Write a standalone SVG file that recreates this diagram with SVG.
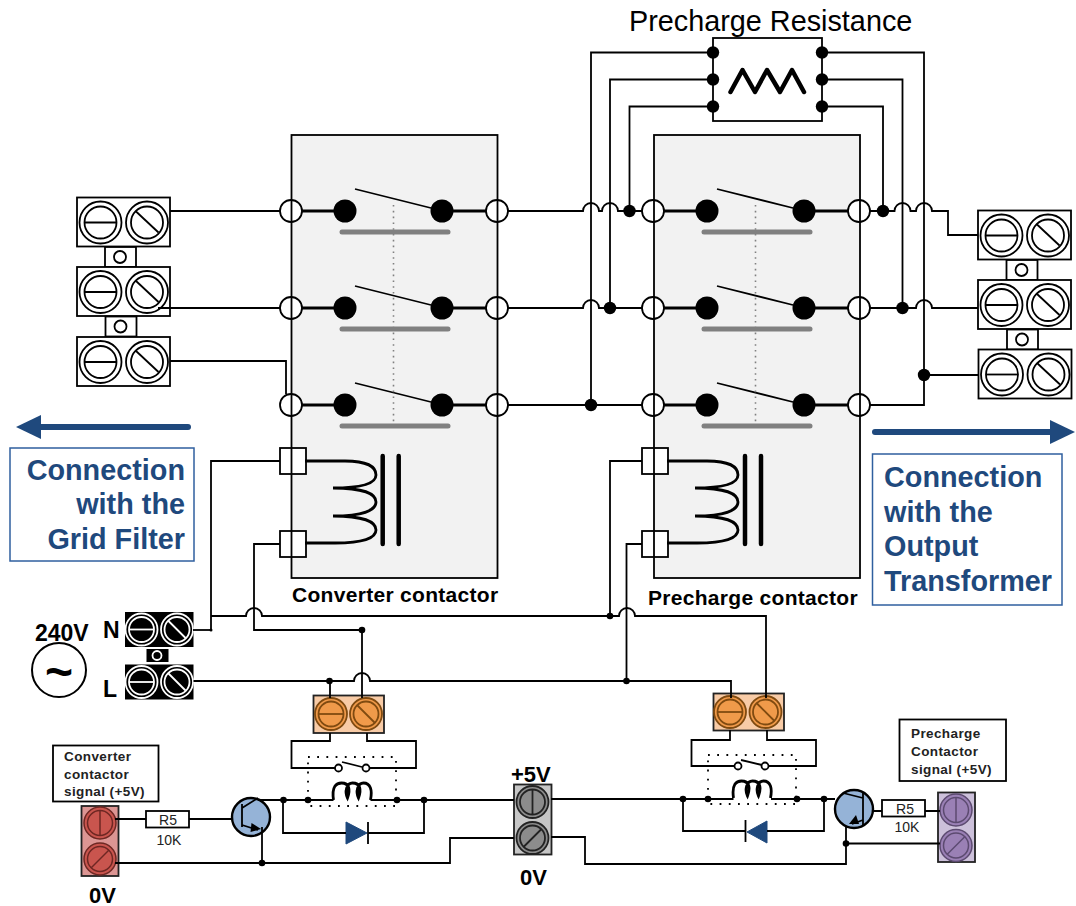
<svg xmlns="http://www.w3.org/2000/svg" width="1076" height="906" viewBox="0 0 1076 906">
<style>
text{font-family:"Liberation Sans",Arial,sans-serif;fill:#000}
.b{font-weight:bold}
.blue{fill:#1f497d;font-weight:bold;font-size:28.800px}
.w{fill:none;stroke:#000;stroke-width:1.800;stroke-linejoin:miter}
.th{fill:none;stroke:#000;stroke-width:3.200}
.d{fill:#000;stroke:none}
.ln{fill:#fff;stroke:#000;stroke-width:1.800}
.scr{fill:#fff;stroke:#000;stroke-width:1.800}
.scrk{fill:#000;stroke:#fff;stroke-width:1.800}
.c-frame{fill:none;stroke:#000;stroke-width:1.800}
.c-fill{fill:#f2f2f2;stroke:none}
.bar{stroke:#808080;stroke-width:5;stroke-linecap:round;fill:none}
.dotv{stroke:#808080;stroke-width:1.600;stroke-dasharray:1.600 4.200;fill:none}
.dotk{stroke:#000;stroke-width:1.800;stroke-dasharray:1.800 7.400;fill:none}
.core{stroke:#000;stroke-width:4.500;stroke-linecap:round;fill:none}
.coil{stroke:#000;stroke-width:2.800;fill:none}
.tr{fill:#95b3d7;stroke:#000;stroke-width:2.400}
.lbl{fill:#fff;stroke:#000;stroke-width:1.800}
.small{font-size:13.500px;font-weight:bold;fill:#222;letter-spacing:.4px}
.val{font-size:14px;fill:#222}
.title{font-size:21px;font-weight:bold;letter-spacing:.3px}
</style>
<defs>
<g id="big-h"><circle r="21"/><circle r="16"/><path d="M-16 0H16"/></g>
<g id="big-d"><circle r="21"/><circle r="16"/><path d="M-11.500 -11.500L11.500 10"/></g>
<g id="sm-h"><circle r="16"/><circle r="12.500"/><path d="M-12.500 0H12.500"/></g>
<g id="sm-d"><circle r="16"/><circle r="12.500"/><path d="M-9 -9L9 9"/></g>
<g id="sm-v"><circle r="16"/><circle r="12.500"/><path d="M0 -12.500V12.500"/></g>
<g id="sm-u"><circle r="16"/><circle r="12.500"/><path d="M-9 9L9 -9"/></g>
<g id="tb">
<rect class="ln" x="0" y="0" width="93" height="49"/>
<use href="#big-h" x="23.500" y="25" class="scr"/>
<use href="#big-d" x="70" y="25" class="scr"/>
</g>
<g id="tab"><rect class="ln" x="0" y="0" width="31" height="20"/><circle class="ln" cx="15" cy="10" r="6"/></g>
<g id="switch">
<path class="th" d="M302 0H334M453 0H486"/>
<circle class="d" cx="345" cy="0" r="11.500"/>
<circle class="d" cx="442" cy="0" r="11.500"/>
<path class="w" d="M355 -22L431 -3"/>
<path class="bar" d="M342 21H448"/>
</g>
<g id="contact"><circle class="ln" cx="0" cy="0" r="11"/></g>
<path id="coilshape" class="coil" d="M0 0H40C62 0 71 6 71 14C71 22 58 27 28 27C58 27 71 33 71 41C71 49 58 55 28 55C58 55 71 61 71 69C71 77 58 82 30 82H0"/>
<path id="relaycoil" class="coil" d="M0 17C-2 3 3 0 8 0C16 0 17 7 14 15C11 9 13 0 19 0C27 0 28 7 25 15C22 9 24 0 30 0C37 0 39 7 37 17"/>
</defs>

<g id="converter-contactor">
<rect class="c-fill" x="291.500" y="135" width="206" height="443"/>
<use href="#contact" x="291" y="211"/><use href="#contact" x="291" y="308"/><use href="#contact" x="291" y="405"/>
<use href="#contact" x="497" y="211"/><use href="#contact" x="497" y="308"/><use href="#contact" x="497" y="405"/>
<rect class="ln" x="280" y="448" width="26" height="26"/><rect class="ln" x="280" y="531" width="26" height="26"/>
<rect class="c-frame" x="291.500" y="135" width="206" height="443"/>
<use href="#switch" y="211"/><use href="#switch" y="308"/><use href="#switch" y="405"/>
<path class="dotv" d="M393.500 205V422"/>
<use href="#coilshape" x="305" y="461"/>
<path class="core" d="M382.700 456V544M398.700 456V544"/>
<text class="title" x="292" y="602">Converter contactor</text>
</g>

<g id="precharge-contactor">
<rect class="c-fill" x="654" y="135" width="206" height="443"/>
<use href="#contact" x="653" y="211"/><use href="#contact" x="653" y="308"/><use href="#contact" x="653" y="405"/>
<use href="#contact" x="859" y="211"/><use href="#contact" x="859" y="308"/><use href="#contact" x="859" y="405"/>
<rect class="ln" x="642" y="448" width="26" height="26"/><rect class="ln" x="642" y="531" width="26" height="26"/>
<rect class="c-frame" x="654" y="135" width="206" height="443"/>
<use href="#switch" x="362" y="211"/><use href="#switch" x="362" y="308"/><use href="#switch" x="362" y="405"/>
<path class="dotv" d="M755.500 205V422"/>
<use href="#coilshape" x="667" y="461"/>
<path class="core" d="M745 456V544M761 456V544"/>
<text class="title" x="648" y="605">Precharge contactor</text>
</g>

<g id="precharge-resistance">
<text x="629" y="31" font-size="28.800">Precharge Resistance</text>
<rect class="ln" x="713" y="38" width="109" height="83"/>
<path d="M730.500 92L742.500 70L755 92L767 70L780 92L792 70L804 92" fill="none" stroke="#000" stroke-width="4.500" stroke-linecap="round" stroke-linejoin="round"/>
</g>

<g id="input-terminals">
<use href="#tb" x="77" y="197.500"/><use href="#tab" x="105" y="247"/>
<use href="#tb" x="77" y="267"/><use href="#tab" x="105.500" y="316.500"/>
<use href="#tb" x="77" y="337"/>
</g>
<g id="output-terminals">
<use href="#tb" x="978" y="210.500"/><use href="#tab" x="1006.500" y="260"/>
<use href="#tb" x="978" y="280"/><use href="#tab" x="1007" y="329.500"/>
<use href="#tb" x="978.500" y="349.500"/>
</g>

<g id="grid-arrow">
<path d="M188 427H40" stroke="#1f497d" stroke-width="6" stroke-linecap="round" fill="none"/>
<path d="M16 427L41 415V439Z" fill="#1f497d"/>
</g>
<g id="grid-label">
<rect x="10" y="448" width="184" height="113" fill="#fff" stroke="#2f5f9f" stroke-width="1.500"/>
<text class="blue" x="185" y="480" text-anchor="end">Connection</text>
<text class="blue" x="185" y="514" text-anchor="end">with the</text>
<text class="blue" x="185" y="549" text-anchor="end">Grid Filter</text>
</g>
<g id="output-arrow">
<path d="M875 432H1052" stroke="#1f497d" stroke-width="6" stroke-linecap="round" fill="none"/>
<path d="M1075 432L1050 420V444Z" fill="#1f497d"/>
</g>
<g id="output-label">
<rect x="872.500" y="454" width="189.500" height="151" fill="#fff" stroke="#2f5f9f" stroke-width="1.500"/>
<text class="blue" x="884" y="487">Connection</text>
<text class="blue" x="884" y="522">with the</text>
<text class="blue" x="884" y="556">Output</text>
<text class="blue" x="884" y="591">Transformer</text>
</g>

<g id="source">
<text class="b" x="35" y="641" font-size="23">240V</text>
<circle cx="59" cy="670" r="27" fill="#fff" stroke="#000" stroke-width="2"/>
<text class="b" x="59" y="688" font-size="48" text-anchor="middle">~</text>
<text class="b" x="103" y="638" font-size="23">N</text>
<text class="b" x="103" y="697" font-size="23">L</text>
</g>
<g id="mains-terminals">
<rect x="125" y="612" width="68.500" height="35" fill="#000"/>
<use href="#sm-h" x="141.500" y="629.500" class="scrk"/>
<use href="#sm-d" x="177" y="629.500" class="scrk"/>
<rect x="146.500" y="649" width="22" height="13" fill="#000"/>
<circle cx="157" cy="655.500" r="4.500" fill="#000" stroke="#fff" stroke-width="1.800"/>
<rect x="125" y="664.500" width="68.500" height="35" fill="#000"/>
<use href="#sm-h" x="141.500" y="682" class="scrk"/>
<use href="#sm-d" x="177" y="682" class="scrk"/>
</g>

<g id="relay-terminal-1">
<rect x="313.500" y="695.500" width="70.500" height="37.500" fill="#f8cba6" stroke="#222" stroke-width="1.800"/>
<use href="#sm-h" x="331" y="714" fill="#f09a4a" stroke="#7f4a10" stroke-width="1.800"/>
<use href="#sm-d" x="366" y="714" fill="#f09a4a" stroke="#7f4a10" stroke-width="1.800"/>
</g>
<g id="relay-terminal-2">
<rect x="713.500" y="693.500" width="70.500" height="37" fill="#f8cba6" stroke="#222" stroke-width="1.800"/>
<use href="#sm-h" x="730" y="712" fill="#f09a4a" stroke="#7f4a10" stroke-width="1.800"/>
<use href="#sm-d" x="765.500" y="712" fill="#f09a4a" stroke="#7f4a10" stroke-width="1.800"/>
</g>

<g id="signal-label-1">
<rect class="lbl" x="53" y="745.500" width="105.500" height="56"/>
<text class="small" x="64" y="761">Converter</text>
<text class="small" x="64" y="779">contactor</text>
<text class="small" x="64" y="796">signal (+5V)</text>
</g>
<g id="signal-label-2">
<rect class="lbl" x="899.500" y="719.500" width="106.500" height="61.500"/>
<text class="small" x="911" y="738">Precharge</text>
<text class="small" x="911" y="756">Contactor</text>
<text class="small" x="911" y="774">signal (+5V)</text>
</g>

<g id="red-terminal">
<rect x="81.500" y="806" width="37" height="70" fill="#dc9593" stroke="#222" stroke-width="1.800"/>
<use href="#sm-v" x="100" y="823" fill="#c9554e" stroke="#6e2723" stroke-width="1.500"/>
<use href="#sm-u" x="100" y="859" fill="#c9554e" stroke="#6e2723" stroke-width="1.500"/>
</g>
<text class="b" x="89" y="903" font-size="22">0V</text>
<g id="grey-terminal">
<rect x="514" y="784.500" width="37.500" height="70" fill="#c6c6c6" stroke="#222" stroke-width="1.800"/>
<use href="#sm-v" x="532.500" y="802" fill="#8c8c8c" stroke="#222" stroke-width="1.800"/>
<use href="#sm-u" x="532.500" y="838" fill="#8c8c8c" stroke="#222" stroke-width="1.800"/>
<text class="b" x="511" y="782" font-size="22">+5V</text>
<text class="b" x="520" y="885" font-size="22">0V</text>
</g>
<g id="purple-terminal">
<rect x="938" y="792.500" width="37" height="69.500" fill="#ccc0da" stroke="#222" stroke-width="1.800"/>
<use href="#sm-v" x="956" y="810" fill="#9a80b5" stroke="#5c4a70" stroke-width="1.500"/>
<use href="#sm-u" x="956" y="845.500" fill="#9a80b5" stroke="#5c4a70" stroke-width="1.500"/>
</g>

<g id="r5-1">
<rect class="lbl" x="146" y="811" width="43" height="16.500"/>
<text class="val" x="168" y="825" text-anchor="middle">R5</text>
<text class="val" x="169" y="845" text-anchor="middle">10K</text>
</g>
<g id="r5-2">
<rect class="lbl" x="882" y="800" width="43" height="16.500"/>
<text class="val" x="905" y="814" text-anchor="middle">R5</text>
<text class="val" x="907" y="832" text-anchor="middle">10K</text>
</g>

<g id="transistor-1">
<circle class="tr" cx="251" cy="817" r="19"/>
<path class="w" d="M242 804V827M242 808L258 798M242 825L258 830"/>
<path class="d" d="M261 829L251.500 823L250.500 832Z"/>
</g>
<g id="transistor-2">
<circle class="tr" cx="854" cy="809" r="19"/>
<path class="w" d="M863 792V825M843 793L863 798M863 820L852 824"/>
<path class="d" d="M849 824L856 815L859 824Z"/>
</g>

<g id="diode-1">
<path d="M346 822L346 844L367 833Z" fill="#1f497d" stroke="#1f497d"/>
<path class="w" d="M368 822V844"/>
</g>
<g id="diode-2">
<path d="M747 832L767 821L767 843Z" fill="#1f497d" stroke="#1f497d"/>
<path class="w" d="M745.500 820V842"/>
</g>

<g id="relay-1">
<path class="dotk" d="M308 757H396V806H308Z"/>
<use href="#relaycoil" x="333.500" y="783"/>
<circle class="ln" cx="338.500" cy="768" r="3.500"/>
<circle class="ln" cx="366" cy="768" r="3.500"/>
<path class="w" d="M342 762L362 767"/>
</g>
<g id="relay-2">
<path class="dotk" d="M708 755H796V804H708Z"/>
<use href="#relaycoil" x="733.500" y="781"/>
<circle class="ln" cx="738" cy="766" r="3.500"/>
<circle class="ln" cx="765" cy="766" r="3.500"/>
<path class="w" d="M741 760L762 765"/>
</g>

<g id="connectors">
<path class="w" d="M170 211H280"/>
<path class="w" d="M158 308H280"/>
<path class="w" d="M170 361H286V394"/>
<path class="w" d="M508 211H583A8 8 0 0 1 599 211H602A8 8 0 0 1 618 211H642"/>
<path class="w" d="M508 308H583A8 8 0 0 1 599 308H642"/>
<path class="w" d="M508 405H642"/>
<path class="w" d="M870 211H894.500A8 8 0 0 1 910.500 211H916A8 8 0 0 1 932 211H948V235H978"/>
<path class="w" d="M870 308H916A8 8 0 0 1 932 308H978"/>
<path class="w" d="M870 405H924V52.500H822"/>
<path class="w" d="M924 375H978"/>
<path class="w" d="M902.500 308V79.500H822"/>
<path class="w" d="M883 211V106.500H822"/>
<path class="w" d="M591 405V52.500H713"/>
<path class="w" d="M610 308V79.500H713"/>
<path class="w" d="M629.500 211V106.500H713"/>
<path class="w" d="M280 461H211V630"/>
<path class="w" d="M193 630H211"/>
<path class="w" d="M211 616H246A8 8 0 0 1 262 616H619A8 8 0 0 1 635 616H766V698"/>
<path class="w" d="M280 544H254V630H362V698"/>
<path class="w" d="M642 461H610V616"/>
<path class="w" d="M642 544H626.500V681"/>
<path class="w" d="M193.500 681H354A8 8 0 0 1 370 681H731V698"/>
<path class="w" d="M330 681V698"/>
<path class="w" d="M330 733V741H291.500V768H335M369.500 768H416V741H367V733"/>
<path class="w" d="M730 730V740H691.500V766H734.500M768.500 766H816V740H767V730"/>
<path class="w" d="M115 819H146M189 819H232"/>
<path class="w" d="M258 800H333.500M370.500 800H514"/>
<path class="w" d="M283 800V833H346M368 833H424V800"/>
<path class="w" d="M262 827V863"/>
<path class="w" d="M115 863H450V838H514"/>
<path class="w" d="M551 799H733.500M771 799H835"/>
<path class="w" d="M683 799V831H745.500M767 831H824V799"/>
<path class="w" d="M873 811H882M925 811H940"/>
<path class="w" d="M551 837H585V864H846V826"/>
<path class="w" d="M846 843.500H940"/>
<circle class="d" cx="713" cy="52.500" r="6.200"/><circle class="d" cx="713" cy="79.500" r="6.200"/><circle class="d" cx="713" cy="106.500" r="6.200"/>
<circle class="d" cx="822" cy="52.500" r="6.200"/><circle class="d" cx="822" cy="79.500" r="6.200"/><circle class="d" cx="822" cy="106.500" r="6.200"/>
<circle class="d" cx="629.500" cy="211" r="6.200"/><circle class="d" cx="610" cy="308" r="6.200"/><circle class="d" cx="591" cy="405" r="6.200"/>
<circle class="d" cx="883" cy="211" r="6.200"/><circle class="d" cx="902.500" cy="308" r="6.200"/><circle class="d" cx="924" cy="375" r="6.200"/>
<circle class="d" cx="211" cy="630" r="1.500"/>
<circle class="d" cx="362" cy="630" r="3.300"/><circle class="d" cx="329.500" cy="681" r="3.300"/>
<circle class="d" cx="610" cy="616" r="3.300"/><circle class="d" cx="626.500" cy="681" r="3.300"/>
<circle class="d" cx="283.500" cy="800" r="3.300"/><circle class="d" cx="308" cy="800" r="3.300"/><circle class="d" cx="397" cy="800" r="3.300"/><circle class="d" cx="424" cy="800" r="3.300"/>
<circle class="d" cx="683" cy="799" r="3.300"/><circle class="d" cx="708" cy="799" r="3.300"/><circle class="d" cx="797" cy="799" r="3.300"/><circle class="d" cx="824" cy="799" r="3.300"/>
<circle class="d" cx="262" cy="863" r="3.300"/><circle class="d" cx="846" cy="843.500" r="3.300"/>
</g>
</svg>
